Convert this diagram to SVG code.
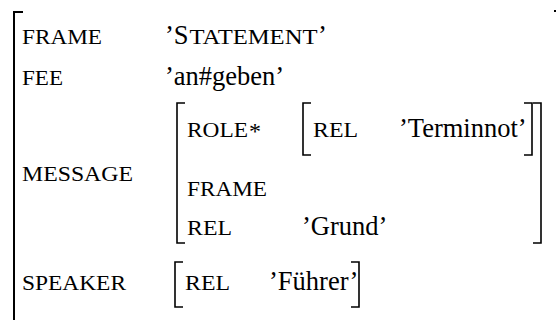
<svg xmlns="http://www.w3.org/2000/svg" width="556" height="320" viewBox="0 0 556 320">
<style>
.t{font-family:"Liberation Serif","Times New Roman",serif;fill:#000}
.v{font-size:26.5px}
.sc{font-size:21px}
.br{fill:none;stroke:#000;stroke-width:1.6}
.ob{fill:none;stroke:#000;stroke-width:2}
</style>
<rect width="556" height="320" fill="#fff"/>
<g id="outer-avm">
<path class="ob" d="M23,12 H14 V322"/>
<path class="ob" d="M554,11 H558 V322"/>
</g>
<g id="row-frame">
<text class="t sc" x="22" y="44" textLength="80" lengthAdjust="spacingAndGlyphs">FRAME</text>
<text class="t v" x="165" y="44">’S</text>
<text class="t sc" x="189.5" y="44" textLength="128" lengthAdjust="spacingAndGlyphs">TATEMENT</text>
<text class="t v" x="318" y="44">’</text>
</g>
<g id="row-fee">
<text class="t sc" x="22" y="85" textLength="41" lengthAdjust="spacingAndGlyphs">FEE</text>
<text class="t v" x="165" y="85">’an#geben’</text>
</g>
<g id="row-message">
<text class="t sc" x="22" y="181" textLength="111" lengthAdjust="spacingAndGlyphs">MESSAGE</text>
<path class="br" d="M185,103 H177 V243 H185"/>
<path class="br" d="M533,103 H541 V243 H533"/>
<g id="message-role">
<text class="t sc" x="187" y="137" textLength="61" lengthAdjust="spacingAndGlyphs">ROLE</text>
<text class="t" font-size="24" x="249" y="139">*</text>
<path class="br" d="M311,103 H303 V155 H311"/>
<text class="t sc" x="313" y="137" textLength="45" lengthAdjust="spacingAndGlyphs">REL</text>
<text class="t v" x="399" y="137">’Terminnot’</text>
<path class="br" d="M524,103 H532 V155 H524"/>
</g>
<g id="message-frame">
<text class="t sc" x="187" y="196" textLength="80" lengthAdjust="spacingAndGlyphs">FRAME</text>
</g>
<g id="message-rel">
<text class="t sc" x="187" y="235" textLength="45" lengthAdjust="spacingAndGlyphs">REL</text>
<text class="t v" x="302" y="235">’Grund’</text>
</g>
</g>
<g id="row-speaker">
<text class="t sc" x="22" y="290" textLength="104" lengthAdjust="spacingAndGlyphs">SPEAKER</text>
<path class="br" d="M183,262 H175 V307 H183"/>
<text class="t sc" x="185" y="290" textLength="45" lengthAdjust="spacingAndGlyphs">REL</text>
<text class="t v" x="269" y="290">’Führer’</text>
<path class="br" d="M351,262 H359 V307 H351"/>
</g>
</svg>
